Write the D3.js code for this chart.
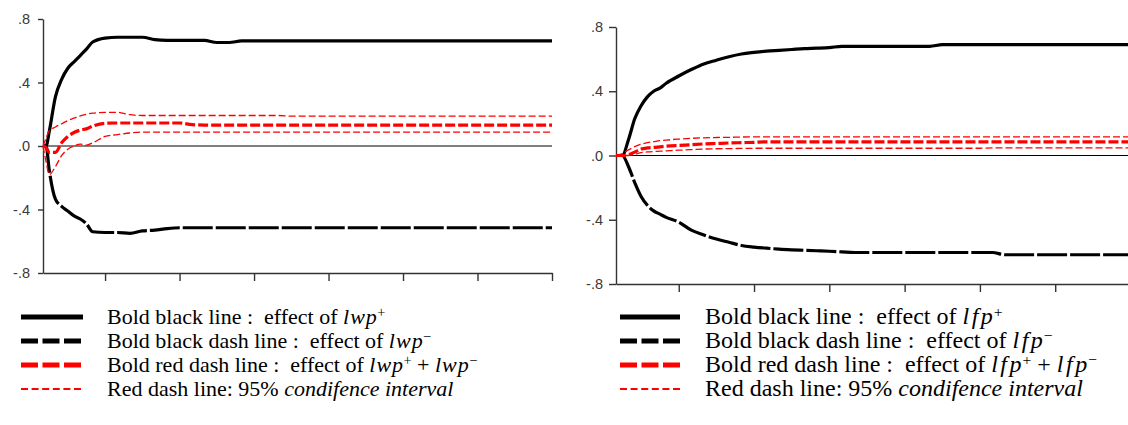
<!DOCTYPE html>
<html>
<head>
<meta charset="utf-8">
<script src="https://cdn.jsdelivr.net/npm/d3@7"></script>
<style>
  html, body { margin: 0; padding: 0; background: #fff; }
  svg { display: block; }
</style>
</head>
<body>
<svg id="chart" width="1128" height="425"></svg>
<script>
// ---------------- DATA ----------------
const periods = [1, 1.25, 1.5, 2, 2.5, 3, 3.5, 4, 4.5, 5,
  6, 7, 8, 9, 10, 11, 12, 13, 14, 15, 16, 17, 18, 19, 20, 21, 22, 23, 24,
  25, 26, 27, 28, 29, 30, 31, 32, 33, 34, 35, 36, 37, 38, 39, 40, 41, 42];

// left panel: lwp
const lwpPos = [0, 0, 0.09, 0.31, 0.42, 0.49, 0.53, 0.57, 0.61, 0.655,
  0.68, 0.685, 0.685, 0.685, 0.67, 0.665, 0.665, 0.665, 0.665, 0.652, 0.652,
  0.662, 0.662, 0.662, 0.662, 0.662, 0.662, 0.662, 0.662, 0.662, 0.662, 0.662, 0.662, 0.662,
  0.662, 0.662, 0.662, 0.662, 0.662, 0.662, 0.662, 0.662, 0.662, 0.662, 0.662, 0.662, 0.662];
const lwpNeg = [0, 0, -0.15, -0.335, -0.38, -0.41, -0.44, -0.46, -0.49, -0.54,
  -0.545, -0.545, -0.55, -0.535, -0.53, -0.52,
  -0.515, -0.515, -0.515, -0.515, -0.515, -0.515, -0.515, -0.515, -0.515, -0.515, -0.515,
  -0.515, -0.515, -0.515, -0.515, -0.515, -0.515, -0.515, -0.515, -0.515, -0.515, -0.515,
  -0.515, -0.515, -0.515, -0.515, -0.515, -0.515, -0.515, -0.515, -0.515];
const lwpSum = [0, -0.01, -0.04, -0.04, 0.02, 0.06, 0.085, 0.10, 0.108, 0.125,
  0.143, 0.145, 0.145, 0.145, 0.145, 0.145, 0.145, 0.135,
  0.132, 0.132, 0.132, 0.132, 0.132, 0.132, 0.132, 0.132, 0.132, 0.132, 0.132, 0.132,
  0.132, 0.132, 0.132, 0.132, 0.132, 0.132, 0.132, 0.132, 0.132, 0.132, 0.132, 0.132,
  0.132, 0.132, 0.132, 0.132, 0.132];
const lwpUpper = [0, 0.05, 0.095, 0.12, 0.14, 0.16, 0.175, 0.19, 0.2, 0.207,
  0.212, 0.212, 0.197,
  0.192, 0.192, 0.192, 0.192, 0.192, 0.192, 0.192, 0.192, 0.192, 0.192, 0.192, 0.192,
  0.188, 0.188, 0.188, 0.188, 0.188, 0.188, 0.188, 0.188, 0.188, 0.188, 0.188,
  0.188, 0.188, 0.188, 0.188, 0.188, 0.188, 0.188, 0.188, 0.188, 0.188, 0.188];
const lwpLower = [0, -0.1, -0.18, -0.13, -0.06, -0.02, 0.0, 0.012, 0.005, 0.02,
  0.06, 0.072, 0.082,
  0.088, 0.088, 0.088, 0.088, 0.088, 0.088, 0.088, 0.088, 0.088, 0.088, 0.088, 0.088,
  0.088, 0.088, 0.088, 0.088, 0.088, 0.088, 0.088, 0.088, 0.088, 0.088, 0.088,
  0.088, 0.088, 0.088, 0.088, 0.088, 0.088, 0.088, 0.088, 0.088, 0.088, 0.088];

// right panel: lfp
const lfpPos = [0, 0, 0, 0.1, 0.23, 0.31, 0.365, 0.40, 0.42, 0.45,
  0.495, 0.535, 0.57, 0.593, 0.615, 0.632, 0.642, 0.65, 0.655, 0.66, 0.665, 0.668, 0.672,
  0.68, 0.68, 0.68, 0.68, 0.68, 0.68, 0.68, 0.68,
  0.69, 0.69, 0.69, 0.69, 0.69, 0.69, 0.69, 0.69, 0.69, 0.69, 0.69, 0.69, 0.69, 0.69, 0.69, 0.69];
const lfpNeg = [0, 0, 0, -0.07, -0.17, -0.255, -0.31, -0.345, -0.365, -0.385,
  -0.415, -0.465, -0.495, -0.52, -0.54, -0.56, -0.57, -0.577, -0.583, -0.587, -0.59, -0.593, -0.596, -0.6,
  -0.604, -0.604, -0.604, -0.604, -0.604, -0.604, -0.604, -0.604, -0.604, -0.604, -0.604, -0.604,
  -0.618, -0.618, -0.618, -0.618, -0.618, -0.618, -0.618, -0.618, -0.618, -0.618, -0.618];
const lfpSum = [0, 0, 0, 0.005, 0.022, 0.04, 0.047, 0.05, 0.054, 0.058,
  0.063, 0.067, 0.072, 0.075, 0.078, 0.08, 0.082,
  0.085, 0.085, 0.085, 0.085, 0.085, 0.085, 0.085, 0.085, 0.085, 0.085, 0.085, 0.085, 0.085,
  0.085, 0.085, 0.085, 0.085, 0.085, 0.085, 0.085, 0.085, 0.085, 0.085, 0.085, 0.085,
  0.085, 0.085, 0.085, 0.085, 0.085];
const lfpUpper = [0, 0.005, 0.012, 0.035, 0.055, 0.07, 0.08, 0.086, 0.092, 0.096,
  0.102, 0.107, 0.11, 0.112, 0.113, 0.115,
  0.116, 0.116, 0.116, 0.116, 0.116, 0.116, 0.116, 0.116, 0.116, 0.116, 0.116, 0.116,
  0.116, 0.116, 0.116, 0.116, 0.116, 0.116, 0.116, 0.116, 0.116, 0.116, 0.116, 0.116,
  0.116, 0.116, 0.116, 0.116, 0.116, 0.116, 0.116];
const lfpLower = [0, 0, 0, 0, 0.008, 0.018, 0.022, 0.025, 0.027, 0.029,
  0.033, 0.036, 0.04, 0.042, 0.043, 0.044,
  0.045, 0.045, 0.045, 0.045, 0.045, 0.045, 0.045, 0.045, 0.045, 0.045, 0.045, 0.045,
  0.045, 0.045, 0.045, 0.045, 0.045, 0.045, 0.045,
  0.048, 0.048, 0.048, 0.048, 0.048, 0.048, 0.048, 0.048, 0.048, 0.048, 0.048, 0.048];

const yTicks = [-0.8, -0.4, 0, 0.4, 0.8];
const yTickLabels = ["-.8", "-.4", ".0", ".4", ".8"];
const xTicks = [6, 12, 18, 24, 30, 36, 42];

const legendLeft = [
  { style: "solid",  pre: "Bold black line :  effect of ", math: [["lwp", "+"]] },
  { style: "bdash",  pre: "Bold black dash line :  effect of ", math: [["lwp", "\u2212"]] },
  { style: "rdash",  pre: "Bold red dash line :  effect of ", math: [["lwp", "+"], ["lwp", "\u2212"]] },
  { style: "rthin",  pre: "Red dash line: 95% ", ital: "condifence interval" }
];
const legendRight = [
  { style: "solid",  pre: "Bold black line :  effect of ", math: [["lfp", "+"]] },
  { style: "bdash",  pre: "Bold black dash line :  effect of ", math: [["lfp", "\u2212"]] },
  { style: "rdash",  pre: "Bold red dash line :  effect of ", math: [["lfp", "+"], ["lfp", "\u2212"]] },
  { style: "rthin",  pre: "Red dash line: 95% ", ital: "condifence interval" }
];

// ---------------- STYLES ----------------
const styles = {
  solid: { stroke: "#000", width: 3.2, dash: null },
  bdash: { stroke: "#000", width: 3.2, dash: "30,3" },
  rdash: { stroke: "#ff0000", width: 3.2, dash: "10,3" },
  rthin: { stroke: "#ff0000", width: 1.3, dash: "7,3" }
};

const svg = d3.select("#chart");

function drawPanel(p) {
  const x = d3.scaleLinear().domain([1, 42]).range([p.x0, p.x1]);
  const y = d3.scaleLinear().domain([-0.8, 0.8]).range([p.yBottom, p.yTop]);
  const g = svg.append("g");

  g.append("line")
    .attr("x1", x(1)).attr("x2", x(42))
    .attr("y1", y(0)).attr("y2", y(0))
    .attr("stroke", "#000").attr("stroke-width", 1.2);

  const ya = g.append("g")
    .attr("transform", `translate(${x(1)},0)`)
    .call(d3.axisLeft(y).tickValues(yTicks)
      .tickFormat((d, i) => yTickLabels[i])
      .tickSize(p.yTick).tickSizeOuter(0).tickPadding(p.yPad));
  ya.select(".domain").attr("stroke", "#333").attr("stroke-width", 1.4);
  ya.selectAll(".tick line").attr("stroke", "#333").attr("stroke-width", 1.4);
  ya.selectAll(".tick text")
    .attr("font-family", "Liberation Sans, Arial, sans-serif")
    .attr("font-size", 14.5).attr("fill", "#3a3a3a");

  const xa = g.append("g")
    .attr("transform", `translate(0,${y(-0.8)})`)
    .call(d3.axisBottom(x).tickValues(xTicks).tickFormat("")
      .tickSize(8).tickSizeOuter(0));
  xa.select(".domain").attr("stroke", "#333").attr("stroke-width", 1.4);
  xa.selectAll(".tick line").attr("stroke", "#333").attr("stroke-width", 1.4);

  const line = d3.line()
    .x((d, i) => x(periods[i]))
    .y(d => y(d))
    .curve(d3.curveMonotoneX);

  const series = [
    [p.pos, "solid"], [p.neg, "bdash"],
    [p.upper, "rthin"], [p.lower, "rthin"], [p.sum, "rdash"]
  ];
  series.forEach(([vals, st]) => {
    const s = styles[st];
    g.append("path")
      .attr("d", line(vals))
      .attr("fill", "none")
      .attr("stroke", s.stroke)
      .attr("stroke-width", s.width)
      .attr("stroke-dasharray", s.dash);
  });
}

drawPanel({ x0: 43, x1: 552, yTop: 19, yBottom: 273, yTick: 5, yPad: 8,
  pos: lwpPos, neg: lwpNeg, sum: lwpSum, upper: lwpUpper, lower: lwpLower });
drawPanel({ x0: 616, x1: 1130.5, yTop: 27, yBottom: 284, yTick: 7, yPad: 6,
  pos: lfpPos, neg: lfpNeg, sum: lfpSum, upper: lfpUpper, lower: lfpLower });

// ---------------- LEGENDS ----------------
const legendStyles = {
  solid: { stroke: "#000", width: 5, dash: null },
  bdash: { stroke: "#000", width: 5, dash: "17,4.5" },
  rdash: { stroke: "#ff0000", width: 5, dash: "17,4.5" },
  rthin: { stroke: "#ff0000", width: 1.8, dash: "7,3.6" }
};

function drawLegend(items, lx0, lx1, tx, rowsY, fs, mathSpacing) {
  const g = svg.append("g");
  const supShift = Math.round(fs * 0.3);
  items.forEach((it, i) => {
    const yy = rowsY[i];
    const s = legendStyles[it.style];
    g.append("line")
      .attr("x1", lx0).attr("x2", lx1)
      .attr("y1", yy).attr("y2", yy)
      .attr("stroke", s.stroke).attr("stroke-width", s.width)
      .attr("stroke-dasharray", s.dash);
    const t = g.append("text")
      .attr("x", tx).attr("y", yy + 7)
      .attr("font-family", "Liberation Serif, Times New Roman, serif")
      .attr("font-size", fs).attr("fill", "#000")
      .attr("xml:space", "preserve");
    t.append("tspan").text(it.pre);
    let raised = false;
    if (it.math) {
      it.math.forEach((m, j) => {
        if (j > 0) {
          t.append("tspan").attr("dy", raised ? supShift : 0).text(" + ");
          raised = false;
        }
        t.append("tspan").attr("font-style", "italic")
          .attr("letter-spacing", mathSpacing)
          .attr("dy", raised ? supShift : 0).text(m[0]);
        t.append("tspan").attr("font-size", fs * 0.65)
          .attr("dx", -mathSpacing * 0.6)
          .attr("dy", -supShift).text(m[1]);
        raised = true;
      });
    }
    if (it.ital) t.append("tspan").attr("font-style", "italic").text(it.ital);
  });
}

drawLegend(legendLeft, 21, 83, 107, [317, 341, 365, 389], 22, 1);
drawLegend(legendRight, 620, 680, 705, [317, 341, 365, 389], 24, 2.5);
</script>
</body>
</html>
